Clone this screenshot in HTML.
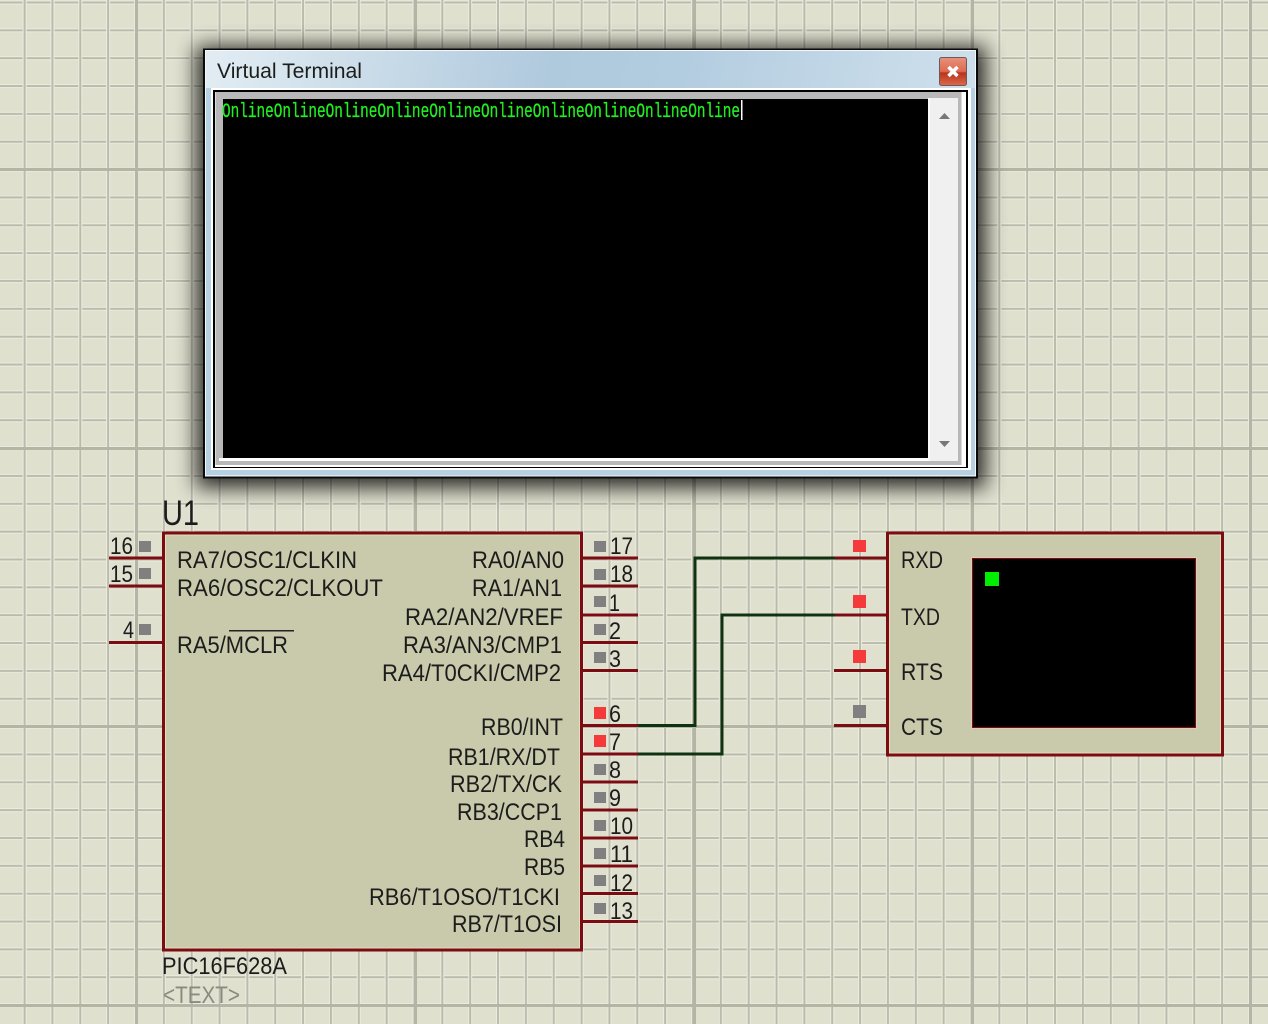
<!DOCTYPE html>
<html><head><meta charset="utf-8"><title>Virtual Terminal</title>
<style>html,body{margin:0;padding:0;background:#e0e0cf}svg{display:block}
text{font-family:"Liberation Sans",sans-serif;fill:#1c1c1c;font-size:24px}
.m{font-family:"Liberation Mono",monospace;fill:#22ee22;font-size:20px;stroke:#22ee22;stroke-width:.3px}
</style></head><body>
<svg xmlns="http://www.w3.org/2000/svg" width="1268" height="1024" viewBox="0 0 1268 1024">
<defs>
<pattern id="gv" width="27.85" height="1024" patternUnits="userSpaceOnUse" patternTransform="translate(122 0)">
<rect x="12" width="4" height="1024" fill="#ecece0"/><rect x="13" width="2" height="1024" fill="#babbaa"/></pattern>
<pattern id="gh" width="1268" height="27.85" patternUnits="userSpaceOnUse" patternTransform="translate(0 -11.5)">
<rect y="12" width="1268" height="4" fill="#ecece0"/><rect y="13" width="1268" height="2" fill="#babbaa"/></pattern>
<linearGradient id="tb" x1="0" x2="1" y1="0" y2="0.12"><stop offset="0" stop-color="#e2edf3"/><stop offset=".45" stop-color="#afc9dd"/><stop offset=".62" stop-color="#b3cde0"/><stop offset="1" stop-color="#cfe0ec"/></linearGradient>
<linearGradient id="cb" x1="0" x2="0" y1="0" y2="1"><stop offset="0" stop-color="#e9917c"/><stop offset=".5" stop-color="#dc6a50"/><stop offset=".55" stop-color="#b8341c"/><stop offset="1" stop-color="#dd6a4c"/></linearGradient>
<filter id="sh" x="-10%" y="-10%" width="120%" height="120%"><feGaussianBlur stdDeviation="10"/></filter>
</defs>
<rect width="1268" height="1024" fill="#e0e0cf"/>
<rect width="1268" height="1024" fill="url(#gh)"/>
<rect width="1268" height="1024" fill="url(#gv)"/>
<g fill="#b4b5a4"><rect x="135" width="3" height="1024"/><rect x="414" width="3" height="1024"/><rect x="693" width="3" height="1024"/><rect x="971" width="3" height="1024"/><rect x="1249" width="3" height="1024"/>
<rect y="168" width="1268" height="3"/><rect y="447" width="1268" height="3"/><rect y="725" width="1268" height="3"/><rect y="1004" width="1268" height="3"/></g>

<!-- window -->
<rect x="196" y="46" width="790" height="442" fill="#000" opacity=".8" filter="url(#sh)"/>
<rect x="203" y="48.500" width="775" height="430" fill="#0a0a0a"/>
<rect x="205" y="50" width="771" height="426.500" fill="#f4f8fb"/>
<rect x="206" y="51" width="769" height="424.500" fill="url(#tb)"/>
<rect x="206" y="88" width="769" height="387" fill="#b6d0e4"/>
<rect x="211" y="88" width="760" height="382" fill="#fff"/>
<rect x="213" y="90" width="755" height="378" fill="#000"/>
<rect x="215" y="92" width="751" height="375" fill="#fff"/>
<rect x="215.500" y="92" width="746" height="373" fill="#b8b8b8"/>
<rect x="223" y="99" width="705" height="359" fill="#000"/>
<rect x="219" y="458" width="709" height="3" fill="#fff"/>
<rect x="928" y="98" width="30" height="363" fill="#f0f0f0"/>
<rect x="928" y="98" width="2" height="363" fill="#fafafa"/>
<polygon points="939,119 950,119 944.500,113" fill="#777"/>
<polygon points="939,441 950,441 944.500,447" fill="#777"/>
<text x="217" y="78" font-size="21.500" style="font-size:21.500px" textLength="145" lengthAdjust="spacingAndGlyphs">Virtual Terminal</text>
<rect x="939.500" y="57.500" width="27" height="28" rx="2" fill="url(#cb)" stroke="#6e5b58"/>
<path d="M948.500 67 L957.500 76 M957.500 67 L948.500 76" stroke="#fff" stroke-width="3.500"/>
<text class="m" x="222" y="117" textLength="518" lengthAdjust="spacingAndGlyphs">OnlineOnlineOnlineOnlineOnlineOnlineOnlineOnlineOnlineOnline</text>
<rect x="741" y="100" width="1.500" height="20" fill="#fff"/>

<!-- pins -->
<g stroke="#7a0c12" stroke-width="3" fill="none">
<path d="M109 558H163M109 586H163M109 642.500H163"/>
<path d="M582 558H638M582 586H638M582 615H638M582 642.500H638M582 670.500H638M582 725.500H638M582 754H638M582 782H638M582 810H638M582 838H638M582 866H638M582 893.500H638M582 921.500H638"/>
<path d="M834 558H887M834 615H887M834 670.500H887M834 725.500H887"/>
</g>
<g stroke="#0f3310" stroke-width="3" fill="none"><path d="M638 725.500H695V558H835"/><path d="M638 754H722V615H835"/></g>

<!-- chip -->
<rect x="163.500" y="533" width="418" height="417" fill="#c9c9ab" stroke="#7a0c12" stroke-width="3"/>
<rect x="165.500" y="535" width="414" height="413" fill="none" stroke="#e6dcc0" stroke-width="1"/>
<!-- display -->
<rect x="887.500" y="533" width="335" height="222" fill="#c9c9ab" stroke="#7a0c12" stroke-width="3"/>
<rect x="889.500" y="535" width="331" height="218" fill="none" stroke="#e6dcc0" stroke-width="1"/>
<rect x="971.500" y="557.500" width="225" height="171" fill="#000" stroke="#e8c8b0" stroke-width="1"/>
<rect x="972.500" y="558.500" width="223" height="169" fill="#000" stroke="#7a0c12" stroke-width="1"/>
<rect x="985" y="572" width="14" height="14" fill="#00ee00"/>

<!-- state squares -->
<g fill="#808080">
<rect x="139" y="541" width="12" height="11"/><rect x="139" y="568" width="12" height="11"/><rect x="139" y="624" width="12" height="11"/>
<rect x="594" y="541" width="12" height="11"/><rect x="594" y="569" width="12" height="11"/><rect x="594" y="596" width="12" height="11"/><rect x="594" y="624" width="12" height="11"/><rect x="594" y="652" width="12" height="11"/>
<rect x="594" y="764" width="12" height="11"/><rect x="594" y="792" width="12" height="11"/><rect x="594" y="820" width="12" height="11"/><rect x="594" y="848" width="12" height="11"/><rect x="594" y="875" width="12" height="11"/><rect x="594" y="903" width="12" height="11"/>
<rect x="853" y="705" width="13" height="13"/></g>
<g fill="#f43a3a">
<rect x="594" y="707" width="12" height="12"/><rect x="594" y="735" width="12" height="12"/>
<rect x="853" y="540" width="13" height="12"/><rect x="853" y="595" width="13" height="13"/><rect x="853" y="650" width="13" height="13"/></g>

<!-- labels -->
<text x="162" y="525" style="font-size:35px" textLength="37" lengthAdjust="spacingAndGlyphs">U1</text>
<text x="110" y="554" textLength="23" lengthAdjust="spacingAndGlyphs">16</text>
<text x="110" y="582" textLength="23" lengthAdjust="spacingAndGlyphs">15</text>
<text x="123" y="638" textLength="11" lengthAdjust="spacingAndGlyphs">4</text>
<text x="177" y="568" textLength="180" lengthAdjust="spacingAndGlyphs">RA7/OSC1/CLKIN</text>
<text x="177" y="596" textLength="206" lengthAdjust="spacingAndGlyphs">RA6/OSC2/CLKOUT</text>
<text x="177" y="653" textLength="111" lengthAdjust="spacingAndGlyphs">RA5/MCLR</text>
<rect x="229" y="630" width="65" height="1.500" fill="#222"/>
<text x="472" y="568" textLength="92" lengthAdjust="spacingAndGlyphs">RA0/AN0</text>
<text x="472" y="596" textLength="90" lengthAdjust="spacingAndGlyphs">RA1/AN1</text>
<text x="405" y="625" textLength="158" lengthAdjust="spacingAndGlyphs">RA2/AN2/VREF</text>
<text x="403" y="653" textLength="159" lengthAdjust="spacingAndGlyphs">RA3/AN3/CMP1</text>
<text x="382" y="681" textLength="179" lengthAdjust="spacingAndGlyphs">RA4/T0CKI/CMP2</text>
<text x="481" y="735" textLength="82" lengthAdjust="spacingAndGlyphs">RB0/INT</text>
<text x="448" y="765" textLength="112" lengthAdjust="spacingAndGlyphs">RB1/RX/DT</text>
<text x="450" y="792" textLength="112" lengthAdjust="spacingAndGlyphs">RB2/TX/CK</text>
<text x="457" y="820" textLength="105" lengthAdjust="spacingAndGlyphs">RB3/CCP1</text>
<text x="524" y="847" textLength="41" lengthAdjust="spacingAndGlyphs">RB4</text>
<text x="524" y="875" textLength="41" lengthAdjust="spacingAndGlyphs">RB5</text>
<text x="369" y="905" textLength="191" lengthAdjust="spacingAndGlyphs">RB6/T1OSO/T1CKI</text>
<text x="452" y="932" textLength="110" lengthAdjust="spacingAndGlyphs">RB7/T1OSI</text>
<text x="610" y="554" textLength="23" lengthAdjust="spacingAndGlyphs">17</text>
<text x="610" y="582" textLength="23" lengthAdjust="spacingAndGlyphs">18</text>
<text x="609" y="611" textLength="11" lengthAdjust="spacingAndGlyphs">1</text>
<text x="609" y="639" textLength="12" lengthAdjust="spacingAndGlyphs">2</text>
<text x="609" y="667" textLength="12" lengthAdjust="spacingAndGlyphs">3</text>
<text x="609" y="722" textLength="12" lengthAdjust="spacingAndGlyphs">6</text>
<text x="609" y="750" textLength="12" lengthAdjust="spacingAndGlyphs">7</text>
<text x="609" y="778" textLength="12" lengthAdjust="spacingAndGlyphs">8</text>
<text x="609" y="806" textLength="12" lengthAdjust="spacingAndGlyphs">9</text>
<text x="610" y="834" textLength="23" lengthAdjust="spacingAndGlyphs">10</text>
<text x="610" y="862" textLength="23" lengthAdjust="spacingAndGlyphs">11</text>
<text x="610" y="891" textLength="23" lengthAdjust="spacingAndGlyphs">12</text>
<text x="610" y="919" textLength="23" lengthAdjust="spacingAndGlyphs">13</text>
<text x="901" y="568" textLength="42" lengthAdjust="spacingAndGlyphs">RXD</text>
<text x="901" y="625" textLength="39" lengthAdjust="spacingAndGlyphs">TXD</text>
<text x="901" y="680" textLength="42" lengthAdjust="spacingAndGlyphs">RTS</text>
<text x="901" y="735" textLength="42" lengthAdjust="spacingAndGlyphs">CTS</text>
<text x="162" y="974" textLength="125" lengthAdjust="spacingAndGlyphs">PIC16F628A</text>
<text x="163" y="1003" style="fill:#8a8a80" textLength="77" lengthAdjust="spacingAndGlyphs">&lt;TEXT&gt;</text>
</svg>
</body></html>
